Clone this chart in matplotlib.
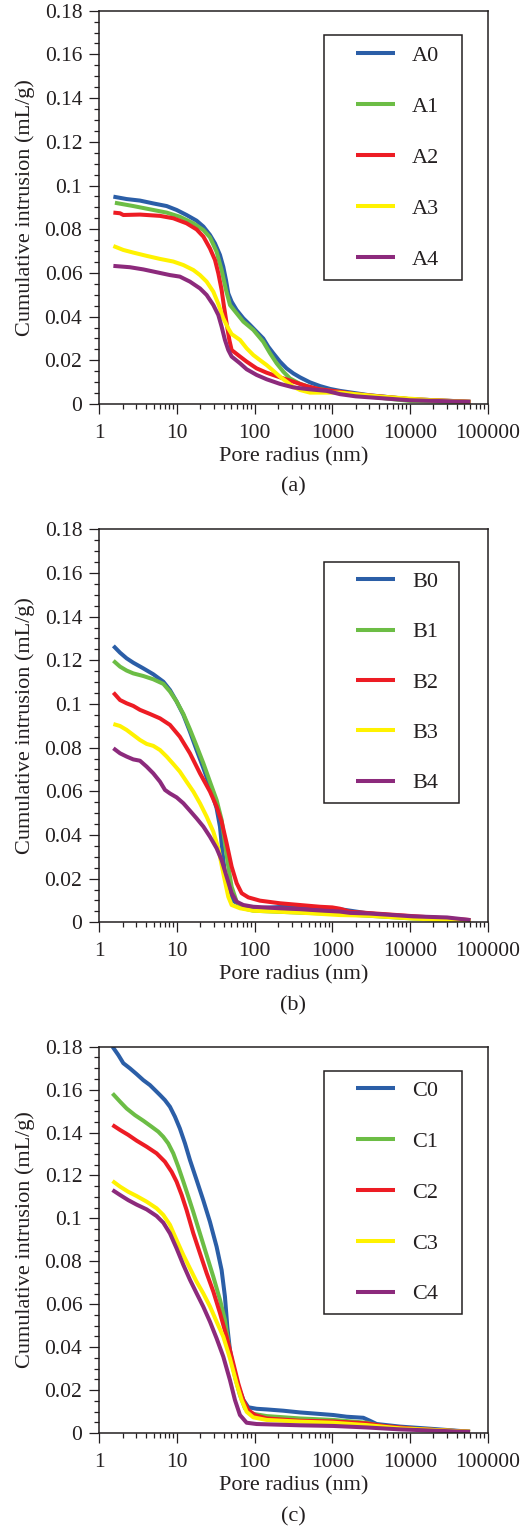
import matplotlib
matplotlib.use("Agg")
import matplotlib.pyplot as plt
from matplotlib.lines import Line2D
from matplotlib.legend_handler import HandlerLine2D
from matplotlib.ticker import FuncFormatter, MultipleLocator, LogLocator, NullFormatter

# ---------------- data ----------------
# panel (a)
a0_x = [1.52, 2.25, 3.34, 4.96, 7.37, 9.91, 13.3, 17.9, 21.9, 26.6, 30.9, 35.8, 39.5, 42.8, 45.8, 50.6,
        58.7, 71.6, 87.2, 106, 129, 150, 174, 212, 258, 315, 384, 516, 695, 934, 1256, 3000, 10000, 30000, 60000]
a0_y = [0.0949, 0.0938, 0.0931, 0.0918, 0.0906, 0.0888, 0.0865, 0.0839, 0.0812, 0.0774, 0.0735, 0.0682,
        0.0628, 0.0567, 0.0506, 0.0468, 0.0430, 0.0392, 0.0362, 0.0331, 0.0300, 0.0262, 0.0232, 0.0194,
        0.0163, 0.0140, 0.0122, 0.0099, 0.0082, 0.0069, 0.0060, 0.0040, 0.0022, 0.0015, 0.0010]
a1_x = [1.59, 2.74, 4.96, 7.37, 10.9, 16.3, 21.9, 26.6, 32.4, 37.6, 42.8, 48.2, 58.7, 71.6, 96.2, 129,
        158, 192, 234, 285, 384, 570, 934, 1256, 2000, 5000, 10000, 30000, 60000]
a1_y = [0.0921, 0.0906, 0.0888, 0.0876, 0.0857, 0.0827, 0.0796, 0.0763, 0.0697, 0.0613, 0.0522, 0.0453,
        0.0415, 0.0377, 0.0339, 0.0285, 0.0232, 0.0186, 0.0148, 0.0117, 0.0092, 0.0072, 0.0061, 0.0055,
        0.0042, 0.0025, 0.0014, 0.0010, 0.0008]
a2_x = [1.52, 1.85, 2.04, 3.34, 6.05, 8.97, 13.3, 17.9, 21.9, 26.6, 30.9, 34.1, 37.6, 40.3, 43.6, 47.2,
        50.6, 64.9, 78.9, 106, 143, 212, 315, 468, 695, 1256, 2000, 5000, 10000, 60000]
a2_y = [0.0876, 0.0873, 0.0865, 0.0867, 0.0861, 0.0850, 0.0827, 0.0799, 0.0766, 0.0712, 0.0659, 0.0598,
        0.0522, 0.0447, 0.0369, 0.0294, 0.0247, 0.0217, 0.0194, 0.0163, 0.0143, 0.0122, 0.0102, 0.0082,
        0.0067, 0.0056, 0.0045, 0.0032, 0.0022, 0.0010]
a3_x = [1.52, 2.04, 2.74, 4.07, 6.05, 8.97, 12.1, 16.3, 19.8, 24.1, 29.4, 34.1, 39.5, 45.8, 50.6, 64.9,
        78.9, 96.2, 117, 143, 174, 212, 258, 315, 384, 516, 845, 1256, 4100, 18000, 60000]
a3_y = [0.0723, 0.0705, 0.0693, 0.0678, 0.0664, 0.0652, 0.0636, 0.0613, 0.0590, 0.0560, 0.0514, 0.0458,
        0.0392, 0.0346, 0.0320, 0.0293, 0.0255, 0.0224, 0.0201, 0.0178, 0.0152, 0.0125, 0.0102, 0.0079,
        0.0064, 0.0052, 0.0052, 0.0052, 0.0034, 0.0018, 0.0010]
a4_x = [1.52, 2.48, 3.69, 5.48, 8.13, 10.9, 14.7, 19.8, 24.1, 29.4, 34.1, 37.6, 41.5, 45.8, 50.6, 64.9,
        78.9, 106, 143, 212, 315, 516, 845, 1256, 2000, 10000, 60000]
a4_y = [0.0632, 0.0626, 0.0616, 0.0603, 0.0590, 0.0583, 0.0560, 0.0529, 0.0499, 0.0453, 0.0407, 0.0354,
        0.0293, 0.0247, 0.0217, 0.0186, 0.0159, 0.0133, 0.0113, 0.0092, 0.0076, 0.0067, 0.0060, 0.0045,
        0.0035, 0.0017, 0.0010]

# panel (b)
b0_x = [1.52, 1.85, 2.25, 2.74, 3.69, 4.96, 6.68, 8.13, 9.91, 12.1, 14.7, 17.9, 21.9, 26.6, 32.4, 35.8,
        38.7, 41.5, 45.8, 50.6, 64.9, 78.9, 117, 212, 384, 695, 1256, 3000, 10000, 60000]
b0_y = [0.1266, 0.1235, 0.1209, 0.1189, 0.1163, 0.1136, 0.1102, 0.1064, 0.1011, 0.0950, 0.0873, 0.0789,
        0.0706, 0.0621, 0.0522, 0.0438, 0.0316, 0.0224, 0.0148, 0.0102, 0.0080, 0.0067, 0.0065, 0.0070,
        0.0070, 0.0068, 0.0060, 0.0040, 0.0025, 0.0008]
b1_x = [1.52, 1.85, 2.25, 2.74, 3.69, 4.96, 6.68, 8.13, 9.91, 12.1, 14.7, 17.9, 21.9, 26.6, 32.4, 37.6,
        41.5, 45.8, 50.6, 58.7, 71.6, 96.2, 174, 384, 1256, 10000, 60000]
b1_y = [0.1198, 0.1171, 0.1153, 0.1140, 0.1128, 0.1113, 0.1092, 0.1057, 0.1011, 0.0954, 0.0884, 0.0808,
        0.0728, 0.0644, 0.0560, 0.0469, 0.0362, 0.0255, 0.0163, 0.0094, 0.0064, 0.0053, 0.0049, 0.0044,
        0.0038, 0.0018, 0.0005]
b2_x = [1.52, 1.85, 2.25, 2.74, 3.34, 4.5, 6.05, 8.13, 10.9, 14.7, 19.8, 26.6, 32.4, 37.6, 43.6, 50.6,
        58.7, 68.1, 83, 117, 212, 384, 695, 1000, 1256, 1690, 3000, 10000, 60000]
b2_y = [0.1052, 0.1018, 0.1003, 0.0991, 0.0973, 0.0954, 0.0934, 0.0904, 0.0850, 0.0774, 0.0682, 0.0599,
        0.0530, 0.0461, 0.0362, 0.0255, 0.0179, 0.0133, 0.0114, 0.0099, 0.0087, 0.0079, 0.0071, 0.0068,
        0.0062, 0.0048, 0.0042, 0.0029, 0.0010]
b3_x = [1.52, 1.85, 2.25, 2.74, 3.34, 4.07, 4.96, 6.05, 7.37, 8.97, 10.9, 13.3, 16.3, 19.8, 24.1, 29.4,
        34.1, 39.5, 45.8, 50.6, 64.9, 96.2, 212, 384, 1256, 3000, 10000, 60000]
b3_y = [0.0908, 0.0899, 0.0881, 0.0858, 0.0835, 0.0817, 0.0808, 0.0789, 0.0759, 0.0725, 0.0690, 0.0644,
        0.0598, 0.0545, 0.0484, 0.0415, 0.0339, 0.0224, 0.0117, 0.0079, 0.0064, 0.0053, 0.0048, 0.0044,
        0.0033, 0.0030, 0.0018, 0.0004]
b4_x = [1.52, 1.85, 2.25, 2.74, 3.34, 4.07, 4.96, 6.05, 7.02, 8.13, 9.91, 12.1, 14.7, 17.9, 21.9, 26.6,
        32.4, 37.6, 43.6, 50.6, 58.7, 71.6, 96.2, 212, 384, 695, 1256, 1690, 3000, 11000, 30000, 60000]
b4_y = [0.0797, 0.0774, 0.0759, 0.0746, 0.0740, 0.0713, 0.0682, 0.0644, 0.0606, 0.0590, 0.0572, 0.0545,
        0.0511, 0.0476, 0.0438, 0.0392, 0.0339, 0.0285, 0.0209, 0.0133, 0.0094, 0.0079, 0.0071, 0.0064,
        0.0060, 0.0054, 0.0049, 0.0043, 0.0040, 0.0027, 0.0022, 0.0010]

# panel (c)
c0_x = [1.48, 1.76, 2.04, 2.48, 3.03, 3.69, 4.49, 5.21, 6.04, 7.0, 8.13, 9.42, 10.9, 12.7, 14.7, 17.9,
        21.8, 26.6, 32.4, 37.6, 41.5, 44.5, 48.1, 53.1, 61.6, 71.5, 82.9, 106, 143, 234, 384, 629, 1030,
        1530, 2510, 3055, 3720, 7430, 19950, 59300]
c0_y = [0.1800, 0.1761, 0.1723, 0.1699, 0.1672, 0.1644, 0.1621, 0.1598, 0.1575, 0.1551, 0.1520, 0.1474,
        0.1419, 0.1349, 0.1272, 0.1179, 0.1085, 0.0984, 0.0868, 0.0759, 0.0635, 0.0495, 0.0387, 0.0304,
        0.0217, 0.0155, 0.0120, 0.0113, 0.0110, 0.0104, 0.0096, 0.0090, 0.0084, 0.0076, 0.0071, 0.0057,
        0.0042, 0.0030, 0.0019, 0.0006]
c1_x = [1.48, 1.85, 2.25, 2.88, 3.69, 4.72, 5.75, 6.67, 7.73, 8.97, 10.4, 12.1, 14.0, 16.2, 19.8, 24.1,
        29.4, 35.8, 41.5, 48.1, 55.8, 64.7, 75.1, 87.1, 143, 384, 1030, 2770, 4540, 12200, 59300]
c1_y = [0.1582, 0.1544, 0.1512, 0.1481, 0.1455, 0.1427, 0.1404, 0.1380, 0.1349, 0.1303, 0.1241, 0.1171,
        0.1102, 0.1031, 0.0929, 0.0829, 0.0728, 0.0621, 0.0526, 0.0371, 0.0262, 0.0177, 0.0115, 0.0092,
        0.0079, 0.0068, 0.0061, 0.0048, 0.0029, 0.0019, 0.0006]
c2_x = [1.48, 1.85, 2.36, 3.03, 4.07, 5.47, 7.0, 8.54, 9.9, 11.5, 13.3, 16.2, 19.8, 24.1, 29.4, 35.8,
        43.6, 53.1, 61.6, 71.5, 82.9, 101, 143, 384, 1030, 2770, 4540, 12200, 59300]
c2_y = [0.1435, 0.1412, 0.1389, 0.1362, 0.1334, 0.1303, 0.1264, 0.1217, 0.1171, 0.1109, 0.1039, 0.0932,
        0.0837, 0.0745, 0.0659, 0.0559, 0.0449, 0.0325, 0.0231, 0.0153, 0.0107, 0.0084, 0.0068, 0.0057,
        0.0054, 0.0045, 0.0033, 0.0019, 0.0006]
c3_x = [1.48, 1.85, 2.36, 3.03, 4.07, 5.47, 6.67, 8.13, 9.9, 12.1, 14.7, 17.9, 21.8, 26.6, 32.4, 39.5,
        48.1, 58.6, 68.1, 78.9, 96, 143, 384, 1030, 2770, 7430, 59300]
c3_y = [0.1174, 0.1148, 0.1124, 0.1104, 0.1078, 0.1047, 0.1016, 0.0970, 0.0899, 0.0829, 0.0767, 0.0705,
        0.0651, 0.0590, 0.0519, 0.0449, 0.0348, 0.0231, 0.0154, 0.0099, 0.0073, 0.0061, 0.0053, 0.0048,
        0.0037, 0.0022, 0.0006]
c4_x = [1.48, 1.85, 2.36, 3.03, 4.07, 5.47, 6.67, 8.13, 9.9, 12.1, 14.7, 17.9, 21.8, 26.6, 32.4, 39.5,
        48.1, 55.8, 64.7, 78.9, 106, 384, 1030, 2770, 7430, 59300]
c4_y = [0.1132, 0.1109, 0.1085, 0.1064, 0.1042, 0.1011, 0.0980, 0.0930, 0.0860, 0.0783, 0.0714, 0.0651,
        0.0589, 0.0519, 0.0441, 0.0356, 0.0247, 0.0154, 0.0084, 0.0048, 0.0042, 0.0036, 0.0033, 0.0026,
        0.0017, 0.0005]

panel_a = [("A0", a0_x, a0_y), ("A1", a1_x, a1_y), ("A2", a2_x, a2_y), ("A3", a3_x, a3_y), ("A4", a4_x, a4_y)]
panel_b = [("B0", b0_x, b0_y), ("B1", b1_x, b1_y), ("B2", b2_x, b2_y), ("B3", b3_x, b3_y), ("B4", b4_x, b4_y)]
panel_c = [("C0", c0_x, c0_y), ("C1", c1_x, c1_y), ("C2", c2_x, c2_y), ("C3", c3_x, c3_y), ("C4", c4_x, c4_y)]
captions = ["(a)", "(b)", "(c)"]

colors = ['#2b5ea7', '#6cbd45', '#ed1c24', '#fff200', '#8c2a7c']
ink = '#231f20'

plt.rcParams['font.family'] = ['Liberation Serif', 'DejaVu Serif']
plt.rcParams['text.color'] = ink
plt.rcParams['axes.labelcolor'] = ink
plt.rcParams['xtick.color'] = ink
plt.rcParams['ytick.color'] = ink


def draw_panel(ax, series, caption, leg_box, spacing):
    for (name, xs, ys), c in zip(series, colors):
        ax.plot(xs, ys, color=c, linewidth=2.9, label=name,
                solid_joinstyle='round', solid_capstyle='butt')

    ax.set_xscale('log')
    ax.set_xlim(1, 100000)
    ax.set_ylim(0, 0.18)
    ax.xaxis.set_major_locator(LogLocator(base=10, numticks=10))
    ax.xaxis.set_minor_locator(LogLocator(base=10, subs=range(2, 10), numticks=20))
    ax.xaxis.set_minor_formatter(NullFormatter())
    ax.xaxis.set_major_formatter(FuncFormatter(lambda v, p: '%d' % round(v)))
    ax.yaxis.set_major_locator(MultipleLocator(0.02))
    ax.yaxis.set_minor_locator(MultipleLocator(0.005))
    ax.yaxis.set_major_formatter(FuncFormatter(lambda v, p: '%g' % round(v, 3)))

    ax.tick_params(which='both', direction='out', top=False, right=False, labelsize=15.5, width=0.9)
    ax.tick_params(axis='x', which='major', length=7.2, pad=7)
    ax.tick_params(axis='y', which='major', length=7.2, pad=5)
    ax.tick_params(which='minor', length=3.6)
    for s in ax.spines.values():
        s.set_color(ink)
        s.set_linewidth(1.1)

    ax.set_xlabel("Pore radius (nm)", fontsize=16, labelpad=3)
    ax.set_ylabel("Cumulative intrusion (mL/g)", fontsize=16, labelpad=7)

    leg = ax.legend(loc='upper left', bbox_to_anchor=leg_box, mode='expand', borderaxespad=0,
                    fontsize=16, frameon=True, fancybox=False, framealpha=1, edgecolor=ink,
                    borderpad=0.45, labelspacing=spacing, handlelength=2.75, handletextpad=0.77,
                    handler_map={Line2D: HandlerLine2D(xpad=0.99)})
    leg.get_frame().set_linewidth(1.1)

    ax.annotate(caption, xy=(0.5, 0), xycoords='axes fraction', xytext=(0, -60),
                textcoords='offset points', ha='center', va='center', fontsize=16)


fig = plt.figure(figsize=(5.28, 15.32), dpi=100)
ax_a = fig.add_axes([0.188, 0.7363, 0.7356, 0.2567])
ax_b = fig.add_axes([0.188, 0.3980, 0.7356, 0.2565])
ax_c = fig.add_axes([0.188, 0.0646, 0.7356, 0.2522])

draw_panel(ax_a, panel_a, captions[0], (0.5785, 0.0, 0.3555, 0.938), 1.37)
draw_panel(ax_b, panel_b, captions[1], (0.5785, 0.0, 0.3480, 0.918), 1.34)
draw_panel(ax_c, panel_c, captions[2], (0.5785, 0.0, 0.3555, 0.938), 1.36)

fig.savefig("out.png", dpi=100)
